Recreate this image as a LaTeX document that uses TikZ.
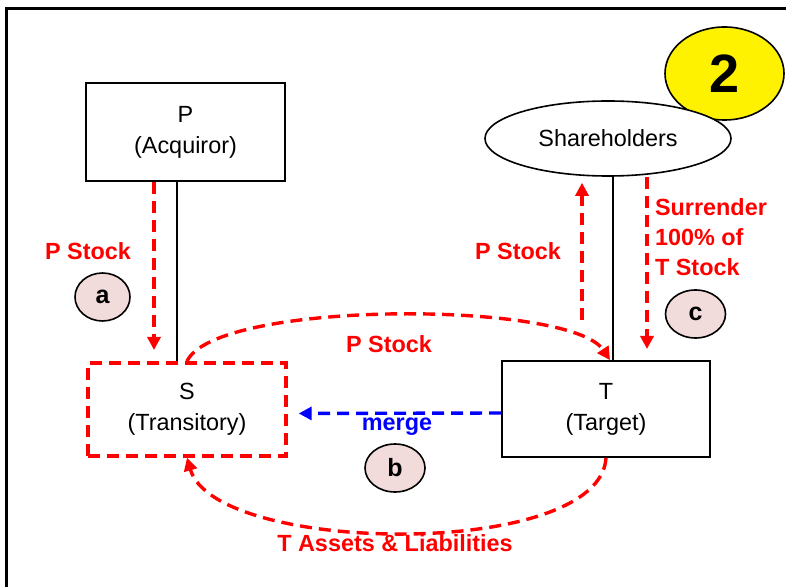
\documentclass[tikz,border=0pt]{standalone}
\usepackage{fontspec}
\setmainfont{Liberation Sans}
\usetikzlibrary{arrows.meta,shapes.geometric}
\definecolor{tagpink}{RGB}{242,220,219}

\begin{document}
\begin{tikzpicture}[x=0.5pt,y=-0.5pt,
  every node/.style={font=\fontsize{11.7}{15.5}\selectfont},
  box/.style={draw,line width=0.9pt,align=center,inner sep=0pt},
  link/.style={line width=0.75pt},
  flow/.style={red,line width=1.7pt,dash pattern=on 6pt off 3.5pt,
    -{Triangle[length=6.5pt,width=6.5pt]}},
  lbl/.style={red,font=\fontsize{11.7}{15}\selectfont\bfseries},
  tag/.style={ellipse,draw,line width=0.8pt,fill=tagpink,inner sep=0pt,
    minimum width=30pt,minimum height=24pt,
    font=\fontsize{12.5}{14}\selectfont\bfseries}]
  \useasboundingbox (0,0) rectangle (786,587);
  % frame
  \draw[line width=1.5pt] (786,9) -- (6,9) -- (6,587);
  % companies
  \node[box,minimum width=99.5pt,minimum height=49pt] (P) at (185.5,132) {P\\(Acquiror)};
  \node[box,draw=red,line width=1.7pt,dash pattern=on 6pt off 3.5pt,
    minimum width=99pt,minimum height=46.5pt] (S) at (187,409.5) {S\\(Transitory)};
  \node[box,minimum width=104pt,minimum height=48pt] (T) at (606,409) {T\\(Target)};
  \node[ellipse,draw,line width=0.8pt,fill=yellow,inner sep=0pt,
    minimum width=59.5pt,minimum height=46.5pt,
    font=\fontsize{27}{30}\selectfont\bfseries] (two) at (724.5,73.5) {2};
  \node[ellipse,draw,line width=0.8pt,fill=white,inner sep=0pt,
    minimum width=123pt,minimum height=37.5pt] (Sh) at (608,138.5) {Shareholders};
  % ownership lines
  \coordinate (pLine) at (177,0);
  \coordinate (tLine) at (613,0);
  \draw[link] (P.south -| pLine) -- (S.north -| pLine);
  \draw[link] (Sh.south -| tLine) -- (T.north -| tLine);
  % step a
  \coordinate (aDown) at (154,350);
  \draw[flow] (P.south -| aDown) -- (aDown);
  \node[lbl] (aLbl) at (88,251) {P Stock};
  \node[tag,minimum width=27.5pt] (a) at (102.5,297) {a};
  % step b
  \draw[flow] (S.north) .. controls (215,300) and (570,300) .. ([xshift=2pt]T.north);
  \node[lbl] (bTop) at (389,344) {P Stock};
  \draw[flow,blue,shorten >=5.5pt] ([yshift=-2pt]T.west) -- ([yshift=-2pt]S.east);
  \node[lbl,blue] (merge) at (397,427) {merge};
  \node[tag] (b) at (395,468) {b};
  \draw[flow] (T.south) .. controls (600,560) and (215,555) .. (S.south);
  \node[lbl] (bBot) at (395,543) {T Assets \& Liabilities};
  % step c
  \coordinate (pUp) at (582,320);
  \draw[flow,shorten >=3pt] (pUp) -- (Sh.south -| pUp);
  \node[lbl] (cLeft) at (518,251) {P Stock};
  \coordinate (cDown) at (647,349);
  \draw[flow] (Sh.south -| cDown) -- (cDown);
  \node[lbl,anchor=west,align=left] (cRight) at (648,237) {Surrender\\100\% of\\T Stock};
  \node[tag] (c) at (695.5,314) {c};
\end{tikzpicture}
\end{document}
